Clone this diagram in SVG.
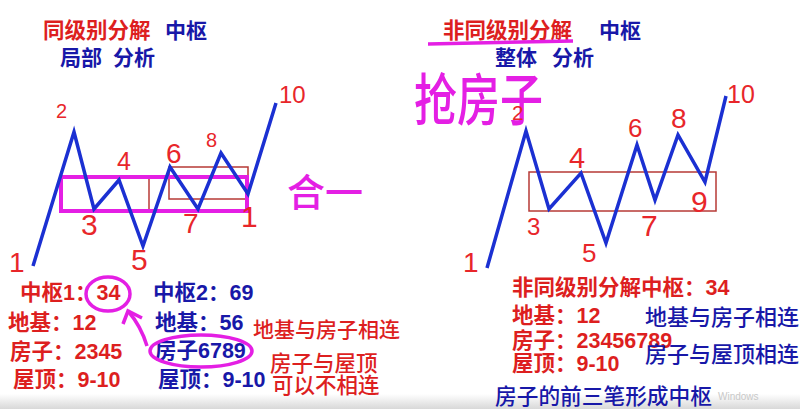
<svg xmlns="http://www.w3.org/2000/svg" width="800" height="409" viewBox="0 0 800 409">
<defs>
<linearGradient id="band" x1="0" y1="0" x2="0" y2="1">
<stop offset="0" stop-color="#ffffff"/>
<stop offset="1" stop-color="#d8d8d8"/>
</linearGradient>
</defs>
<style>
.t{font-family:"Liberation Sans","Noto Sans CJK SC",sans-serif;font-weight:bold;}
.n{font-family:"Noto Sans CJK SC","Liberation Sans",sans-serif;font-weight:500;}
.r{fill:#dd1f1f;}
.b{fill:#1818a8;}
.hw{font-family:"Liberation Sans",sans-serif;fill:#e8262a;}
.wave{fill:none;stroke:#1b30d2;stroke-width:3.5;stroke-linejoin:miter;}
.mag{fill:none;stroke:#e41fe4;stroke-width:3.5;}
.box{fill:none;stroke:#b73a36;stroke-width:1.5;}
</style>
<rect x="0" y="0" width="800" height="409" fill="#ffffff"/>
<rect x="0" y="394" width="800" height="15" fill="url(#band)"/>

<g id="left-title">
<text class="t r" x="43" y="38" font-size="21.5">同级别分解</text>
<text class="t b" x="165" y="38" font-size="21">中枢</text>
<text class="t b" x="60" y="65" font-size="21">局部</text>
<text class="t b" x="113" y="65" font-size="21">分析</text>
</g>

<g id="right-title">
<text class="t r" x="443" y="38" font-size="21.5">非同级别分解</text>
<text class="t b" x="599" y="38" font-size="21">中枢</text>
<text class="t b" x="495" y="65" font-size="21">整体</text>
<text class="t b" x="552" y="65" font-size="21">分析</text>
<path class="mag" d="M428,44 L573,41" stroke-width="3"/>
<text class="n" x="0" y="0" font-size="43" fill="#e41fe4" transform="translate(414,120) scale(1,1.3)">抢房子</text>
</g>

<g id="left-chart">
<rect class="box" x="169" y="167" width="79" height="32"/>
<path class="box" d="M149,177 L149,211"/>
<rect x="61" y="177" width="186" height="34" fill="none" stroke="#e41fe4" stroke-width="4"/>
<path class="wave" d="M33,266 L74,132 L94,209 L119,180 L143,246 L170,167 L198,209 L221,153 L248,194 L276,103"/>
<text class="hw" x="56" y="118" font-size="20">2</text>
<text class="hw" x="117" y="170" font-size="25">4</text>
<text class="hw" x="166" y="163" font-size="28">6</text>
<text class="hw" x="206" y="147" font-size="20">8</text>
<text class="hw" x="279" y="103" font-size="24">10</text>
<text class="hw" x="81" y="235" font-size="30">3</text>
<text class="hw" x="131" y="270" font-size="30">5</text>
<text class="hw" x="183" y="233" font-size="28">7</text>
<text class="hw" x="241" y="227" font-size="30">1</text>
<text class="hw" x="9" y="272" font-size="28">1</text>
<text class="n" x="287" y="206" font-size="38" fill="#e41fe4">合一</text>
</g>

<g id="right-chart">
<rect class="box" x="529" y="172" width="187" height="39"/>
<path class="wave" d="M487,268 L526,131 L549,209 L581,173 L606,243 L637,145 L655,200 L678,135 L705,182 L726,96"/>
<text class="hw" x="512" y="120" font-size="21">2</text>
<text class="hw" x="569" y="168" font-size="29">4</text>
<text class="hw" x="628" y="137" font-size="26">6</text>
<text class="hw" x="671" y="128" font-size="28">8</text>
<text class="hw" x="727" y="103" font-size="25">10</text>
<text class="hw" x="527" y="235" font-size="24">3</text>
<text class="hw" x="582" y="262" font-size="26">5</text>
<text class="hw" x="641" y="236" font-size="30">7</text>
<text class="hw" x="691" y="212" font-size="30">9</text>
<text class="hw" x="463" y="272" font-size="28">1</text>
</g>

<g id="left-notes">
<text class="t r" x="20" y="300" font-size="21.5">中枢1：34</text>
<text class="t r" x="8" y="330" font-size="21.5">地基：12</text>
<text class="t r" x="10" y="359" font-size="21.5">房子：2345</text>
<text class="t r" x="13" y="387" font-size="21.5">屋顶：9-10</text>
<text class="t b" x="153" y="300" font-size="21.5">中枢2：69</text>
<text class="t b" x="155" y="330" font-size="21.5">地基：56</text>
<text class="t b" x="155" y="358" font-size="21.5">房子6789</text>
<text class="t b" x="158" y="387" font-size="21.5">屋顶：9-10</text>
<text class="n r" x="253" y="337" font-size="21">地基与房子相连</text>
<text class="n r" x="270" y="371" font-size="21.5">房子与屋顶</text>
<text class="n r" x="272" y="393" font-size="21.5">可以不相连</text>
</g>

<g id="connectors">
<ellipse class="mag" cx="108" cy="294" rx="22" ry="17" stroke-width="3"/>
<ellipse class="mag" cx="201" cy="351" rx="51" ry="16" stroke-width="3"/>
<path class="mag" d="M147,346 Q141,326 128,311" stroke-width="3"/>
<path class="mag" d="M123,324 L128,311 L142,318" stroke-width="3"/>
</g>

<g id="right-notes">
<text class="t r" x="512" y="295" font-size="21.5">非同级别分解中枢：34</text>
<text class="t r" x="512" y="323" font-size="21.5">地基：12</text>
<text class="t r" x="512" y="348" font-size="21.5">房子：23456789</text>
<text class="t r" x="512" y="371" font-size="21.5">屋顶：9-10</text>
<text class="n b" x="645" y="325" font-size="22">地基与房子相连</text>
<text class="n b" x="645" y="362" font-size="22">房子与屋顶相连</text>
<text class="n b" x="495" y="404" font-size="21.7">房子的前三笔形成中枢</text>
<text x="718" y="400" font-size="10" fill="#c8c8c8" font-family="Liberation Sans,sans-serif">Windows</text>
</g>
</svg>
